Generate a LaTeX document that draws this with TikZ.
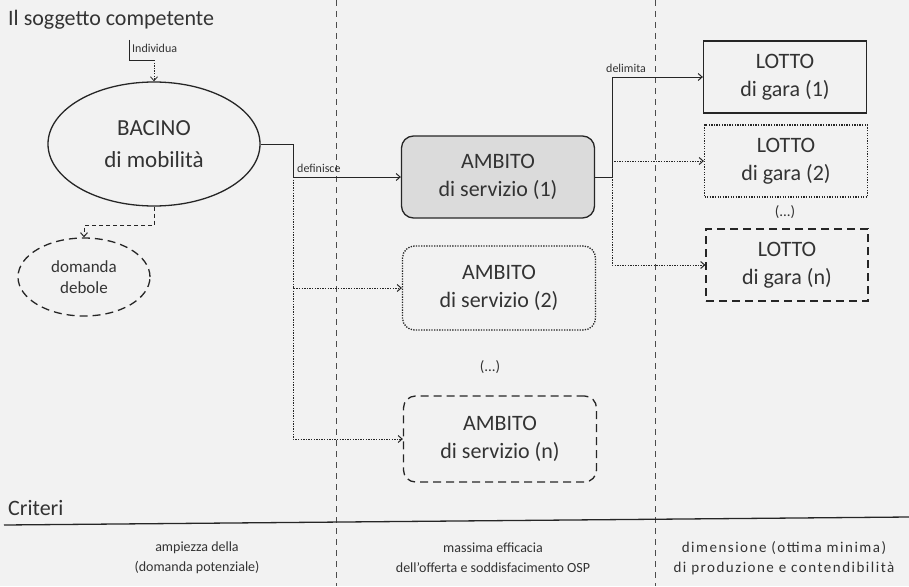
\documentclass[tikz,border=0pt]{standalone}
\usepackage{fontspec}
\setmainfont{Carlito}
\usetikzlibrary{shapes.geometric,arrows.meta,calc}
\begin{document}
\begin{tikzpicture}[x=1pt,y=-1pt,
  every node/.style={text=black!80, align=center},
  big/.style={font=\fontsize{22}{28}\selectfont},
  lab/.style={font=\fontsize{12}{14}\selectfont, inner sep=1pt},
  crit/.style={font=\fontsize{14}{20}\selectfont},
  conn/.style={line width=1pt, draw=black!85},
  arr/.style={-{Straight Barb[length=4pt,width=7pt]}},
  ambbox/.style={big, draw=black!85, line width=1.3pt, rounded corners=12pt, minimum width=193pt, minimum height=82pt, inner sep=0pt},
  lotbox/.style={big, draw=black!85, line width=1.3pt, minimum width=163pt, minimum height=72pt, inner sep=0pt},
  sepline/.style={draw=black!70, line width=0.8pt, dash pattern=on 6pt off 5pt},
  dsh/.style={dash pattern=on 8pt off 5pt},
  dts/.style={dash pattern=on 1.3pt off 1.3pt},
]
\useasboundingbox (0,0) rectangle (909,586);
\fill[black!5] (0,0) rectangle (909,586);

% separators
\coordinate (sA1) at (336,0); \coordinate (sA2) at (336,586);
\coordinate (sB1) at (655,0); \coordinate (sB2) at (655,586);
\draw[sepline] (sA1) -- (sA2);
\draw[sepline] (sB1) -- (sB2);

% title
\node[big, anchor=west, inner sep=0pt] (title) at (8,20) {Il soggetto competente};

% bacino
\node[ellipse, draw=black!85, line width=1.3pt, minimum width=212pt, minimum height=124pt, inner sep=0pt,
      font=\fontsize{23}{32}\selectfont] (bacino) at (154,144) {BACINO\\di mobilità};

% individua
\coordinate (indtop) at (129,40);
\coordinate (indcorner) at (154,60);
\draw[conn, line width=0.8pt] (indtop) |- (indcorner);
\draw[conn, line width=0.8pt, dts, arr] (indcorner) -- (bacino.north);
\node[lab, anchor=west] (lind) at (131,48) {Individua};

% domanda debole
\node[ellipse, draw=black!85, line width=1.3pt, dsh, minimum width=132pt, minimum height=78pt, inner sep=0pt,
      font=\fontsize{17}{21}\selectfont] (deb) at (84,277) {domanda\\debole};
\draw[conn, dash pattern=on 4pt off 3pt, arr] (bacino.south) -- ++(0,19) -| (deb.north);

% ambiti
\node[ambbox, fill=black!14] (amb1) at (498,177) {AMBITO\\di servizio (1)};
\node[ambbox, dts, minimum height=84pt] (amb2) at (499,288) {AMBITO\\di servizio (2)};
\node[font=\fontsize{15}{18}\selectfont] (dots1) at (490,367) {(...)};
\node[ambbox, dsh, minimum height=86pt] (ambn) at (500,439) {AMBITO\\di servizio (n)};

\coordinate (j1) at (293,144);
\draw[conn, arr] (bacino.east) -- (j1) |- (amb1.west);
\node[lab, anchor=south west] (ldef) at (296,174) {definisce};
\draw[conn, dts, arr] (j1 |- amb1.west) -- (j1 |- amb2.west) -- (amb2.west);
\draw[conn, dts, arr] (j1 |- amb2.west) |- (ambn.west);

% lotti
\node[lotbox] (lot1) at (785,77) {LOTTO\\di gara (1)};
\node[lotbox, dts] (lot2) at (786,161) {LOTTO\\di gara (2)};
\node[font=\fontsize{15}{18}\selectfont] (dots2) at (785,212) {(...)};
\node[lotbox, dsh, minimum width=162pt] (lotn) at (787,265) {LOTTO\\di gara (n)};

\coordinate (j2) at (612,177);
\draw[conn, arr] (amb1.east) -- (j2) |- (lot1.west);
\node[lab, anchor=south west] (ldel) at (605,74) {delimita};
\draw[conn, dts, arr] (j2) -- (j2 |- lot2.west) -- (lot2.west);
\draw[conn, dts, arr] (j2 |- lot2.west) |- (lotn.west);

% criteri
\node[big, anchor=west, inner sep=0pt] (crit) at (8,508) {Criteri};
\coordinate (cL) at (4,525); \coordinate (cR) at (909,517);
\draw[line width=1.3pt, black!85] (cL) -- (cR);

\node[crit] (c1) at (197,558) {ampiezza della\\(domanda potenziale)};
\node[crit] (c2) at (493,558) {massima efficacia\\dell'offerta e soddisfacimento OSP};
\node[crit, font=\fontsize{15}{20}\addfontfeature{LetterSpace=10}\selectfont] (c3) at (784,558) {dimensione (ottima minima)\\di produzione e contendibilità};
\end{tikzpicture}
\end{document}
